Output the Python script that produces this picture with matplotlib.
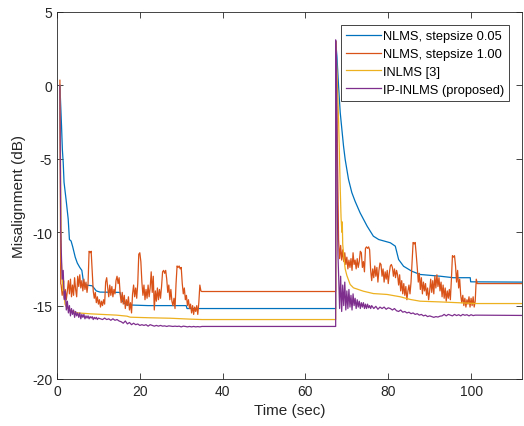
# Misalignment curves for NLMS / INLMS / IP-INLMS with an echo path change at ~67 s

import numpy as np
import matplotlib.pyplot as plt

plt.rcParams['font.family'] = ['Liberation Sans', 'DejaVu Sans']
plt.rcParams['axes.unicode_minus'] = False

t_switch = 67.3
t_end = 112.3

labels = ['NLMS, stepsize 0.05', 'NLMS, stepsize 1.00', 'INLMS [3]', 'IP-INLMS (proposed)']
colors = ['#0072BD', '#D95319', '#EDB120', '#7E2F8E']

# NLMS mu=0.05 (smooth, read at breakpoints)
blue_t1 = [0.7, 1.1, 1.3, 1.5, 1.7, 2.2, 2.7, 3.0, 3.4, 3.8, 4.4, 4.9, 5.5, 6.0, 6.4, 7.0,
           8.5, 9.5, 10.4, 15.2, 15.8, 16.7, 22.0, 31.2, 31.4, 67.3]
blue_v1 = [0.0, -2.8, -4.4, -5.25, -6.6, -7.8, -9.1, -10.5, -10.6, -11.0, -11.7, -12.1, -12.4,
           -12.6, -13.4, -13.6, -13.65, -14.0, -14.08, -14.1, -14.7, -14.95, -15.0, -15.0,
           -15.2, -15.2]
blue_t2 = [67.3, 67.6, 68.0, 68.4, 68.8, 69.2, 69.6, 70.4, 71.2, 72.0, 73.2, 74.9, 76.4, 77.7,
           80.5, 81.7, 82.5, 83.7, 85.7, 87.7, 92.6, 95.7, 99.8, 99.9, 112.3]
blue_v2 = [3.0, 2.0, -0.05, -1.85, -3.0, -4.14, -5.05, -6.4, -7.3, -7.9, -8.68, -9.59, -10.27,
           -10.5, -10.72, -10.95, -11.86, -12.32, -12.66, -12.88, -13.0, -13.1, -13.1, -13.38,
           -13.4]

# NLMS mu=1.00 (noisy, sampled every 0.25 s)
orange_head1 = ([0.7, 0.9], [0.35, -13.5])
orange_v1 = [-13.6, -14.3, -13.8, -14.5, -13.9, -14.6, -14.0, -13.3, -14.2, -13.2, -14.4, -13.6,
             -14.3, -13.1, -13.9, -14.4, -13.0, -13.7, -12.9, -13.8, -13.3, -14.0, -13.2, -13.9,
             -13.4, -14.1, -13.5, -11.3, -11.4, -11.3, -12.6, -14.0, -14.5, -14.1, -14.8, -14.4,
             -14.9, -14.6, -15.1, -14.7, -15.0, -14.6, -14.9, -13.4, -13.1, -13.8, -14.4, -13.6,
             -14.3, -13.7, -14.4, -13.9, -14.2, -13.3, -13.0, -13.5, -13.1, -14.2, -14.8, -14.1,
             -14.9, -14.3, -15.2, -14.6, -15.0, -14.4, -15.3, -14.8, -15.5, -14.2, -13.6, -14.4,
             -13.8, -14.5, -13.5, -11.5, -11.4, -12.0, -13.4, -14.3, -13.6, -14.6, -13.9, -14.5,
             -13.6, -14.4, -13.8, -12.7, -14.1, -13.0, -15.3, -14.0, -14.7, -13.8, -14.6, -13.9,
             -14.5, -13.7, -12.7, -12.6, -12.8, -12.6, -13.2, -14.1, -13.6, -14.6, -13.9, -14.7,
             -15.0, -14.5, -15.2, -13.5, -12.3, -12.4, -12.3, -12.5, -12.4, -13.5, -14.2, -13.8,
             -14.6, -14.3, -15.0, -14.6, -15.2, -14.9, -15.5, -15.0, -15.6, -15.1, -15.4, -15.0,
             -15.6, -14.8, -13.6, -14.0]
orange_flat1 = -14.04
orange_head2 = ([67.3, 67.5, 67.8, 67.95], [3.0, 0.5, -6.0, -9.5])
orange_v2 = [-10.5, -11.8, -10.9, -11.9, -11.2, -12.0, -11.4, -12.2, -11.7, -12.5, -11.9, -12.4,
             -11.8, -12.6, -11.4, -12.2, -11.9, -12.5, -11.8, -12.4, -12.0, -11.3, -11.4, -12.4,
             -12.0, -12.7, -11.1, -11.0, -11.1, -11.0, -11.2, -12.6, -13.3, -12.5, -13.1, -12.3,
             -13.0, -12.4, -13.4, -12.6, -12.1, -12.2, -13.0, -12.5, -13.4, -12.7, -13.2, -12.6,
             -13.5, -12.8, -12.3, -12.2, -12.4, -13.0, -12.5, -13.1, -12.6, -12.9, -13.6, -12.9,
             -14.0, -13.3, -14.2, -13.5, -14.3, -13.7, -14.6, -14.0, -13.6, -14.2, -13.4, -12.0,
             -10.7, -10.8, -10.7, -11.5, -12.4, -13.4, -12.8, -13.9, -13.1, -14.2, -13.4, -14.0,
             -13.5, -14.3, -13.8, -14.6, -14.0, -13.2, -14.1, -13.3, -14.2, -13.0, -13.8, -12.9,
             -13.7, -13.1, -14.0, -13.4, -14.4, -13.6, -14.5, -13.8, -14.7, -14.0, -14.5, -13.9,
             -14.6, -13.2, -11.6, -11.7, -11.6, -12.3, -13.4, -12.6, -13.8, -13.2, -14.3, -14.8,
             -14.3, -15.0, -14.5, -15.1, -14.6, -14.9, -14.4, -15.1, -14.5, -15.0, -14.4, -15.1,
             -14.7, -13.2, -13.5]
orange_flat2 = -13.5

# INLMS [3]
yellow_t1 = [0.7, 1.05, 1.2, 1.45, 1.6, 1.75, 1.93, 2.4, 3.1, 4.7, 8.0, 14.4, 16.9, 17.7, 22.5,
             27.3, 32.0, 35.0, 67.3]
yellow_v1 = [0.0, -12.0, -12.8, -14.0, -13.3, -14.3, -14.9, -15.15, -15.3, -15.49, -15.56,
             -15.65, -15.72, -15.79, -15.83, -15.86, -15.92, -15.95, -15.95]
yellow_t2 = [67.3, 67.6, 68.0, 68.2, 68.4, 68.6, 68.8, 68.9, 69.0, 69.3, 69.6, 70.0, 70.8, 71.6,
             74.0, 76.4, 79.7, 82.9, 85.3, 87.7, 92.6, 97.4, 101.4, 112.3]
yellow_v2 = [3.0, 1.0, -2.3, -4.6, -7.0, -9.0, -10.0, -9.3, -10.8, -11.8, -12.5, -12.95, -13.56,
             -13.79, -14.02, -14.18, -14.24, -14.4, -14.58, -14.7, -14.75, -14.81, -14.86, -14.86]

# IP-INLMS (proposed)
purple_head1 = ([0.7, 0.9], [0.0, -9.7])
purple_v1a = [-11.0, -13.2, -12.6, -14.6, -14.0, -15.3, -14.7, -15.5, -15.0, -15.7, -15.2, -15.6,
              -15.3, -15.8, -15.4, -15.7, -15.5, -15.8, -15.5, -15.9, -15.6, -15.8, -15.6, -15.9,
              -15.7, -15.85, -15.7, -15.9, -15.75, -15.85, -15.75, -15.95, -15.8, -15.9, -15.8,
              -15.95, -15.85]
purple_v1b = [-15.9, -15.95, -15.85, -15.95, -15.9, -16.0, -15.9, -16.0, -15.95, -16.05, -16.1,
              -16.2, -16.05, -16.25, -16.15, -16.3, -16.2, -16.3, -16.25, -16.35, -16.3, -16.35,
              -16.3, -16.4, -16.3, -16.35, -16.4, -16.35, -16.4, -16.35, -16.4, -16.38, -16.42,
              -16.38, -16.4, -16.42, -16.4, -16.42, -16.4, -16.45, -16.4, -16.42, -16.45, -16.42,
              -16.45, -16.42, -16.45, -16.43, -16.45, -16.42]
purple_flat1 = -16.42
purple_head2 = ([67.3, 67.5, 67.7, 67.85], [3.1, 1.0, -8.0, -11.5])
purple_v2a = [-12.8, -15.2, -13.0, -15.4, -13.6, -15.0, -13.4, -15.3, -14.0, -15.2, -13.9, -15.1,
              -14.3, -15.3, -14.2, -15.0, -14.5, -15.2, -14.6, -15.1, -14.7, -15.2, -14.8, -15.1,
              -14.8, -15.2, -14.9, -15.2, -14.9, -15.15, -15.0, -15.2, -15.0]
purple_v2b = [-15.2, -15.05, -15.25, -15.1, -15.2, -15.1, -15.25, -15.15, -15.2, -15.3, -15.2,
              -15.35, -15.4, -15.3, -15.45, -15.4, -15.5, -15.45, -15.55, -15.5, -15.6, -15.55,
              -15.65, -15.6, -15.7, -15.65, -15.75, -15.7, -15.75, -15.8, -15.75, -15.78, -15.72,
              -15.7, -15.6, -15.7, -15.6, -15.65, -15.7, -15.6, -15.68, -15.62, -15.7, -15.6,
              -15.66, -15.62, -15.7, -15.62, -15.68, -15.65]
purple_flat2 = -15.67


def grid(t0, dt, vals):
    return list(t0 + dt * np.arange(len(vals))), list(vals)


def join(*parts):
    t, v = [], []
    for pt, pv in parts:
        t += list(pt)
        v += list(pv)
    return np.array(t), np.array(v)


blue = join((blue_t1, blue_v1), (blue_t2, blue_v2))

o1 = grid(1.0, 0.25, orange_v1)
o2 = grid(68.0, 0.25, orange_v2)
orange = join(orange_head1, o1, ([o1[0][-1] + 0.2, t_switch], [orange_flat1, orange_flat1]),
              orange_head2, o2, ([o2[0][-1] + 0.2, t_end], [orange_flat2, orange_flat2]))

yellow = join((yellow_t1, yellow_v1), (yellow_t2, yellow_v2))

p1a = grid(1.0, 0.25, purple_v1a)
p1b = grid(10.5, 0.5, purple_v1b)
p2a = grid(68.0, 0.25, purple_v2a)
p2b = grid(76.5, 0.5, purple_v2b)
purple = join(purple_head1, p1a, p1b, ([t_switch], [purple_flat1]),
              purple_head2, p2a, p2b, ([t_end], [purple_flat2]))

fig = plt.figure(figsize=(5.24, 4.27), dpi=100)
ax = fig.add_axes([57 / 524, 47 / 427, 465 / 524, 367 / 427])

for (t, v), c, lab in zip([blue, orange, yellow, purple], colors, labels):
    ax.plot(t, v, color=c, lw=0.9, label=lab)

ax.set_xlim(0, t_end)
ax.set_ylim(-20, 5)
ax.set_xticks(range(0, 101, 20))
ax.set_yticks(range(-20, 6, 5))
ax.tick_params(direction='in', top=True, right=True, length=4, width=0.6,
               labelsize=10, colors='#262626')
for s in ax.spines.values():
    s.set_color('#262626')
    s.set_linewidth(0.6)

ax.set_xlabel('Time (sec)', fontsize=11, color='#262626')
ax.set_ylabel('Misalignment (dB)', fontsize=11, color='#262626')

leg = ax.legend(loc='upper right', bbox_to_anchor=(0.972, 0.9646), borderaxespad=0,
                fontsize=9.3, fancybox=False, framealpha=1, handlelength=2.7,
                handletextpad=0.15, labelspacing=0.45, borderpad=0.4)
leg.get_frame().set_edgecolor('#262626')
leg.get_frame().set_linewidth(0.6)

fig.savefig('out.png', dpi=100)
